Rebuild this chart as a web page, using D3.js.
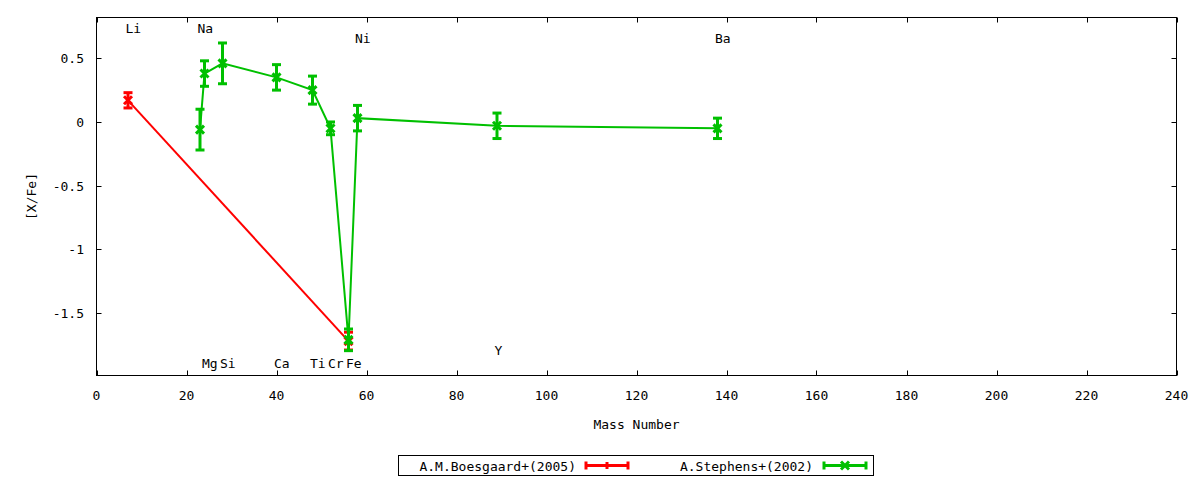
<!DOCTYPE html>
<html><head><meta charset="utf-8">
<script src="https://cdn.jsdelivr.net/npm/d3@7"></script>
<style>
html,body{margin:0;padding:0;background:#fff;}
text{font-family:"DejaVu Sans Mono",monospace;font-size:13px;fill:#000;}
</style></head>
<body><svg id="c" width="1200" height="480"></svg>
<script>
// ---- data ----
const boesgaardMass = [7, 56];
const boesgaardVal  = [0.17, -1.72];
const boesgaardErr  = [0.06, 0.07];

const stephensMass = [23, 24, 28, 40, 48, 52, 56, 58, 89, 138];
const stephensVal  = [-0.06, 0.38, 0.46, 0.35, 0.25, -0.05, -1.71, 0.03, -0.03, -0.05];
const stephensErr  = [0.16, 0.10, 0.16, 0.10, 0.11, 0.05, 0.085, 0.10, 0.10, 0.08];

const elementNames = ["Li","Na","Mg","Si","Ca","Ti","Cr","Fe","Ni","Y","Ba"];
const elementMass  = [7, 23, 24, 28, 40, 48, 52, 56, 58, 89, 138];
const elementLabelY = [0.74, 0.74, -1.895, -1.895, -1.895, -1.895, -1.895, -1.895, 0.66, -1.79, 0.66];

const xTicks = [0,20,40,60,80,100,120,140,160,180,200,220,240];
const yTicks = [0.5, 0, -0.5, -1, -1.5];
const seriesNames = ["A.M.Boesgaard+(2005)", "A.Stephens+(2002)"];
const seriesColors = ["#ff0000", "#00c000"];

// ---- layout ----
const svg = d3.select("#c");
const L = 96.5, R = 1176.5, T = 17.5, B = 375.5;
const x = d3.scaleLinear().domain([0, 240]).range([L, R]);
const y = d3.scaleLinear().domain([-1.99, 0.82]).range([B, T]);

// frame
svg.append("rect").attr("x", L).attr("y", T).attr("width", R - L).attr("height", B - T)
  .attr("fill", "none").attr("stroke", "#000").attr("stroke-width", 1);

const tl = 5;
// x ticks bottom + top (inward)
const gx = svg.append("g");
xTicks.forEach(t => {
  const px = Math.round(x(t)) + 0.5;
  gx.append("line").attr("x1", px).attr("x2", px).attr("y1", B).attr("y2", B - tl).attr("stroke", "#000");
  gx.append("line").attr("x1", px).attr("x2", px).attr("y1", T).attr("y2", T + tl).attr("stroke", "#000");
  gx.append("text").attr("x", x(t)).attr("y", 399.5).attr("text-anchor", "middle").text(d3.format("d")(t));
});
// y ticks left + right
const gy = svg.append("g");
yTicks.forEach(t => {
  const py = Math.round(y(t)) + 0.5;
  gy.append("line").attr("x1", L).attr("x2", L + tl).attr("y1", py).attr("y2", py).attr("stroke", "#000");
  gy.append("line").attr("x1", R).attr("x2", R - tl).attr("y1", py).attr("y2", py).attr("stroke", "#000");
  gy.append("text").attr("x", 84).attr("y", y(t) + 5).attr("text-anchor", "end").text(String(t));
});

// axis titles
svg.append("text").attr("x", (L + R) / 2).attr("y", 429).attr("text-anchor", "middle").text("Mass Number");
svg.append("text").attr("transform", `translate(36,${(T + B) / 2}) rotate(-90)`)
  .attr("text-anchor", "middle").text("[X/Fe]");

// series drawing
function drawSeries(mass, val, err, color) {
  const g = svg.append("g");
  const pts = mass.map((m, i) => [x(m), y(val[i])]);
  g.append("path").attr("d", d3.line()(pts)).attr("fill", "none")
    .attr("stroke", color).attr("stroke-width", 2);
  mass.forEach((m, i) => {
    const cx = x(m), top = y(val[i] + err[i]), bot = y(val[i] - err[i]);
    g.append("line").attr("x1", cx).attr("x2", cx).attr("y1", top).attr("y2", bot)
      .attr("stroke", color).attr("stroke-width", 3);
    [top, bot].forEach(yy => g.append("line").attr("x1", cx - 4.5).attr("x2", cx + 4.5)
      .attr("y1", yy).attr("y2", yy).attr("stroke", color).attr("stroke-width", 3));
    const cy = y(val[i]);
    g.append("path").attr("d", `M${cx-4},${cy-4}L${cx+4},${cy+4}M${cx-4},${cy+4}L${cx+4},${cy-4}`)
      .attr("stroke", color).attr("stroke-width", 3).attr("fill", "none");
  });
}
drawSeries(boesgaardMass, boesgaardVal, boesgaardErr, seriesColors[0]);
drawSeries(stephensMass, stephensVal, stephensErr, seriesColors[1]);

// element labels
elementNames.forEach((n, i) => {
  svg.append("text").attr("x", x(elementMass[i]) - 2.5).attr("y", y(elementLabelY[i]) + 5)
    .attr("text-anchor", "start").text(n);
});

// legend
const lg = svg.append("g");
lg.append("rect").attr("x", 398.5).attr("y", 455.5).attr("width", 475).attr("height", 20)
  .attr("fill", "none").attr("stroke", "#000");
const legendItems = [
  {name: seriesNames[0], color: seriesColors[0], textEnd: 576, x1: 586, x2: 628},
  {name: seriesNames[1], color: seriesColors[1], textEnd: 813, x1: 824, x2: 866}
];
legendItems.forEach((it, k) => {
  const ly = 465.5;
  lg.append("text").attr("x", it.textEnd).attr("y", ly + 5).attr("text-anchor", "end").text(it.name);
  lg.append("line").attr("x1", it.x1).attr("x2", it.x2).attr("y1", ly).attr("y2", ly)
    .attr("stroke", it.color).attr("stroke-width", 3);
  [it.x1, it.x2].forEach(xx => lg.append("line").attr("x1", xx).attr("x2", xx)
    .attr("y1", ly - 4).attr("y2", ly + 4).attr("stroke", it.color).attr("stroke-width", 3));
  const mx = (it.x1 + it.x2) / 2;
  if (k === 0) {
    lg.append("line").attr("x1", mx).attr("x2", mx).attr("y1", ly - 3.5).attr("y2", ly + 3.5)
      .attr("stroke", it.color).attr("stroke-width", 3);
  } else {
    lg.append("path").attr("d", `M${mx-4},${ly-4}L${mx+4},${ly+4}M${mx-4},${ly+4}L${mx+4},${ly-4}`)
      .attr("stroke", it.color).attr("stroke-width", 3).attr("fill", "none");
  }
});
</script></body></html>
